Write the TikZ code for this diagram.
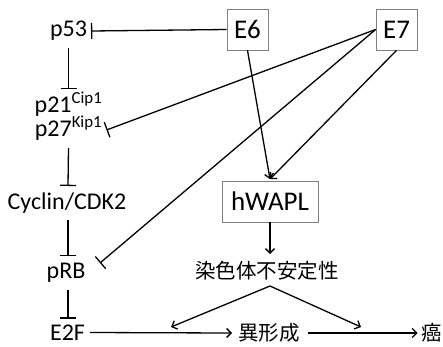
\documentclass[tikz,border=0pt]{standalone}
\usepackage{fontspec}
\setmainfont{Carlito}
\newfontfamily\cjk{Noto Sans CJK JP}
\usetikzlibrary{arrows.meta,calc}
\begin{document}
\begin{tikzpicture}[x=1pt,y=-1pt,
  lab/.style={inner sep=0pt,font=\fontsize{24}{26}\selectfont},
  jlab/.style={inner sep=0pt,font=\cjk\fontsize{20.5}{23}\selectfont},
  boxnode/.style={draw=black!50,line width=0.8pt,inner sep=0pt,font=\fontsize{27}{30}\selectfont},
  conn/.style={line width=1.3pt,black},
  inh/.style={conn,-{Bar[width=16pt,line width=1.3pt]}},
  act/.style={conn,-{Straight Barb[length=4.5pt,width=9pt,line width=1.3pt]}}]
\useasboundingbox (0,0) rectangle (443,346);
% nodes
\node[lab] (p53) at (68.5,31) {p53};
\node[boxnode,minimum width=41pt,minimum height=41pt] (E6) at (247.5,29.5) {E6};
\node[boxnode,minimum width=41pt,minimum height=41pt] (E7) at (396.5,29.5) {E7};
\node[lab] (p21) at (68.5,104) {p21\textsuperscript{Cip1}};
\node[lab] (p27) at (68.5,128) {p27\textsuperscript{Kip1}};
\node[lab] (cyc) at (67,203) {Cyclin/CDK2};
\node[lab] (prb) at (66,273) {pRB};
\node[lab] (e2f) at (67.5,332.5) {E2F};
\node[boxnode,minimum width=96pt,minimum height=41pt] (hw) at (270,201.5) {hWAPL};
\node[jlab] (cin) at (267,271) {染色体不安定性};
\node[jlab] (dys) at (269,333) {異形成};
\node[jlab,anchor=east] (can) at (442.5,333) {癌};
% coordinates
\coordinate (p53bar) at ($(p53.center)+(22.5,0)$);
\coordinate (p27bar) at ($(p27.center)+(38,2)$);
\coordinate (prbbar) at ($(prb.center)+(34,-10)$);
\coordinate (hwtop) at ($(hw.north)+(0,-1.5)$);
\coordinate (apex) at ($(cin.center)+(3,15)$);
% connectors
\draw[inh] (E6.west) -- (p53bar);
\draw[inh] ($(p53.center)+(0,17)$) -- ($(p21.center)+(0,-15)$);
\draw[inh] ($(p27.center)+(0,20)$) -- ($(cyc.center)+(1,-17)$);
\draw[inh] ($(cyc.center)+(1,17)$) -- ($(prb.center)+(2,-17)$);
\draw[inh] ($(prb.center)+(2,17)$) -- ($(e2f.center)+(0.5,-14)$);
\draw[inh] (E7.west) -- (p27bar);
\draw[inh] (E7.west) -- (prbbar);
\draw[act] (E6.south) -- (hwtop);
\draw[act] (E7.south) -- (hwtop);
\draw[act] (hw.south) -- ($(cin.center)+(3,-17)$);
\draw[act] (apex) -- ($(dys.center)+(-98,-6)$);
\draw[act] (apex) -- ($(dys.center)+(92,-6)$);
\draw[act] ($(e2f.east)+(5,0)$) -- ($(dys.west)+(-6,0)$);
\draw[act] ($(dys.east)+(8,0)$) -- ($(can.west)+(-4,0)$);
\end{tikzpicture}
\end{document}
